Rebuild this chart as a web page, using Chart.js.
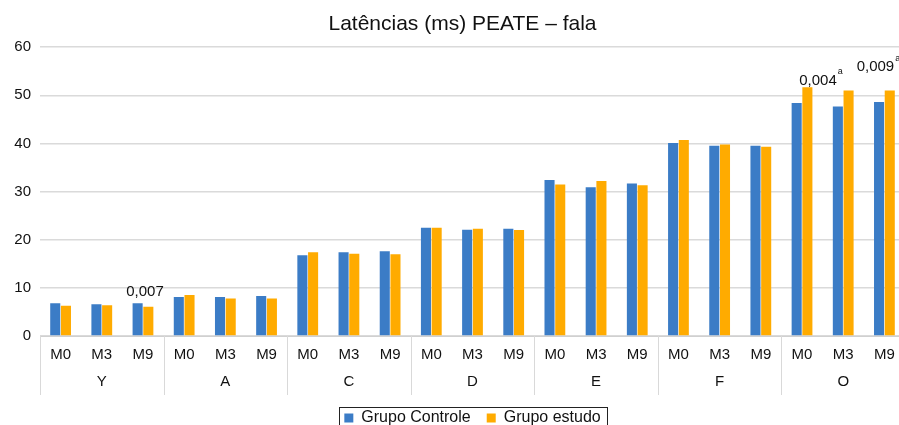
<!DOCTYPE html>
<html lang="pt">
<head>
    <meta charset="UTF-8">
    <title>Latências (ms) PEATE – fala</title>
    <script src="https://cdn.jsdelivr.net/npm/chart.js"></script>
    <style>
        html, body {
            margin: 0;
            padding: 0;
            background: #fff;
            overflow: hidden;
        }
        #wrap {
            width: 925px;
            height: 425px;
        }
    </style>
</head>
<body>
    <div id="wrap">
        <canvas id="grafico" width="925" height="425"></canvas>
    </div>

    <script>
        const momentos = ['M0', 'M3', 'M9'];
        const grupos = ['Y', 'A', 'C', 'D', 'E', 'F', 'O'];
        const grupoControle = [6.8, 6.6, 6.8, 8.1, 8.1, 8.3, 16.8, 17.4, 17.6, 22.5, 22.1, 22.3,
                               32.4, 30.9, 31.7, 40.1, 39.5, 39.5, 48.4, 47.7, 48.6];
        const grupoEstudo = [6.3, 6.4, 6.1, 8.5, 7.8, 7.8, 17.4, 17.1, 17.0, 22.5, 22.3, 22.0,
                             31.5, 32.2, 31.3, 40.7, 39.8, 39.3, 51.7, 51.0, 51.0];
        const valoresP = ['0,007', '0,004', '0,009'];
        const indicesP = [2, 18, 20];
        const notasP = ['', 'a', 'a'];

        const FONTE = "'Liberation Sans', Arial, sans-serif";
        const AZUL = '#3b7cc6';
        const LARANJA = '#ffab00';

        // rótulos de categoria: M0, M3, M9 repetidos por grupo
        const rotulos = [];
        grupos.forEach(() => momentos.forEach(m => rotulos.push(m)));

        // deslocamentos dos valores de p em relação ao topo das barras
        const ajusteP = [[2, -4], [16, 1], [-9, -16]];

        const eixoAgrupado = {
            id: 'eixoAgrupado',
            afterDraw(chart) {
                const ctx = chart.ctx;
                const x = chart.scales.x;
                const area = chart.chartArea;
                const larg = (area.right - area.left) / rotulos.length;
                ctx.save();
                ctx.strokeStyle = '#d9d9d9';
                ctx.lineWidth = 1;
                for (let g = 0; g <= grupos.length; g++) {
                    const px = Math.round(area.left + g * momentos.length * larg) + 0.5;
                    ctx.beginPath();
                    ctx.moveTo(px, area.bottom);
                    ctx.lineTo(px, area.bottom + 59);
                    ctx.stroke();
                }
                ctx.fillStyle = '#111';
                ctx.font = '15px ' + FONTE;
                ctx.textAlign = 'center';
                ctx.textBaseline = 'middle';
                grupos.forEach((g, i) => {
                    const centro = x.getPixelForValue(i * momentos.length + 1);
                    ctx.fillText(g, centro, area.bottom + 46);
                });

                // valores de p
                const m0 = chart.getDatasetMeta(0).data;
                const m1 = chart.getDatasetMeta(1).data;
                ctx.textAlign = 'center';
                ctx.textBaseline = 'bottom';
                valoresP.forEach((txt, k) => {
                    const i = indicesP[k];
                    const cx = x.getPixelForValue(i) + ajusteP[k][0];
                    const topo = Math.min(m0[i].y, m1[i].y) + ajusteP[k][1];
                    ctx.font = '15px ' + FONTE;
                    ctx.fillText(txt, cx, topo);
                    if (notasP[k]) {
                        const w = ctx.measureText(txt).width;
                        ctx.font = '9px ' + FONTE;
                        ctx.textAlign = 'left';
                        ctx.fillText(notasP[k], cx + w / 2 + 1, topo - 12);
                        ctx.textAlign = 'center';
                    }
                });

                // moldura da legenda
                const caixas = chart.legend.legendHitBoxes;
                if (caixas && caixas.length) {
                    const esq = Math.min(...caixas.map(c => c.left)) - 5;
                    const dir = Math.max(...caixas.map(c => c.left + c.width)) + 7;
                    const topoL = Math.min(...caixas.map(c => c.top)) - 3;
                    const baseL = Math.max(...caixas.map(c => c.top + c.height)) + 6;
                    ctx.strokeStyle = '#222';
                    ctx.lineWidth = 1;
                    ctx.strokeRect(Math.round(esq) + 0.5, Math.round(topoL) + 0.5,
                                   Math.round(dir - esq), Math.round(baseL - topoL));
                }
                ctx.restore();
            }
        };

        new Chart(document.getElementById('grafico'), {
            type: 'bar',
            data: {
                labels: rotulos,
                datasets: [
                    {
                        label: 'Grupo Controle',
                        data: grupoControle,
                        backgroundColor: AZUL,
                        barPercentage: 0.94,
                        categoryPercentage: 0.52
                    },
                    {
                        label: 'Grupo estudo',
                        data: grupoEstudo,
                        backgroundColor: LARANJA,
                        barPercentage: 0.94,
                        categoryPercentage: 0.52
                    }
                ]
            },
            options: {
                responsive: false,
                animation: false,
                layout: { padding: 0 },
                plugins: {
                    title: {
                        display: true,
                        text: 'Latências (ms) PEATE – fala',
                        color: '#111',
                        font: { family: FONTE, size: 21, weight: 'normal' },
                        padding: { top: 12, bottom: 10 }
                    },
                    legend: {
                        position: 'bottom',
                        fullSize: false,
                        maxHeight: 31,
                        labels: {
                            color: '#111',
                            font: { family: FONTE, size: 16 },
                            boxWidth: 9,
                            boxHeight: 9,
                            padding: 16
                        }
                    },
                    tooltip: { enabled: false }
                },
                scales: {
                    x: {
                        grid: { display: false, drawTicks: false },
                        border: { color: '#d0d0d0' },
                        ticks: {
                            color: '#111',
                            font: { family: FONTE, size: 15 },
                            padding: 10,
                            maxRotation: 0,
                            autoSkip: false
                        },
                        afterFit(scale) { scale.height = 58; }
                    },
                    y: {
                        min: 0,
                        max: 60,
                        grid: { color: '#dadada', lineWidth: 1.5, drawTicks: false },
                        border: { display: false },
                        ticks: {
                            stepSize: 10,
                            color: '#111',
                            font: { family: FONTE, size: 15 },
                            padding: 9
                        },
                        afterFit(scale) { scale.width = 40; }
                    },
                    // eixo vazio à direita: a área do gráfico continua além da janela
                    margem: {
                        position: 'right',
                        display: true,
                        grid: { display: false },
                        border: { display: false },
                        ticks: { display: false },
                        afterFit(scale) { scale.width = 20; }
                    }
                }
            },
            plugins: [eixoAgrupado]
        });
    </script>
</body>
</html>
